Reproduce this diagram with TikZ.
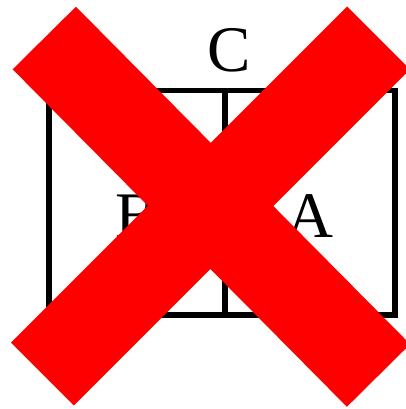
\documentclass[tikz,border=0pt]{standalone}
\usepackage{fontspec}
\setmainfont{Liberation Serif}

\begin{document}
\begin{tikzpicture}[x=1pt, y=-1pt,
	cell/.style={draw, line width=5.5pt, inner sep=0pt, minimum height=224.5pt},
	lbl/.style={font=\fontsize{65}{65}\selectfont, inner sep=0pt, anchor=base},
	cross/.style={red, line width=89pt}]
	\useasboundingbox (0,0) rectangle (405,409);
	% the two halves of the box
	\node[cell, minimum width=176pt] (left) at (137,202.75) {};
	\node[cell, minimum width=170pt] (right) at (310,202.75) {};
	\node[lbl] (c) at (229.5,72) {C};
	\node[lbl] (b) at (137,237) {B};
	\node[lbl] (a) at (310,237) {A};
	% the big red cross
	\coordinate (tl) at (44.3,38);
	\coordinate (br) at (378.5,375.5);
	\coordinate (tr) at (378.5,38);
	\coordinate (bl) at (42.5,374);
	\draw[cross] (tl) -- (br);
	\draw[cross] (tr) -- (bl);
\end{tikzpicture}
\end{document}
